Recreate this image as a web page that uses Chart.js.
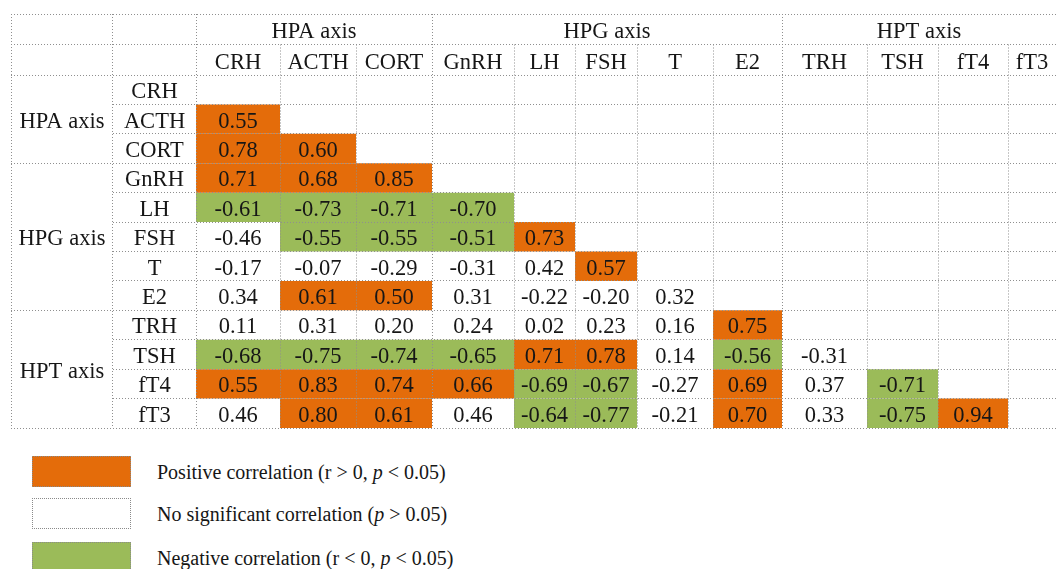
<!DOCTYPE html>
<html>
<head>
<meta charset="utf-8">
<title>Hormone axis correlations</title>
<script src="https://cdn.jsdelivr.net/npm/chart.js@4.4.1/dist/chart.umd.min.js"></script>
<style>
  html, body { margin: 0; padding: 0; background: #fff; }
  #wrap {
    position: relative;
    width: 1056px;
    height: 569px;
    overflow: hidden;
    font-family: "Liberation Serif", "Times New Roman", serif;
    color: #161616;
  }
  #chart-corr { position: absolute; left: 0; top: 0; }
  .key { position: absolute; left: 32px; height: 31px; line-height: 31px; font-size: 20px; white-space: nowrap; }
  .key .sw {
    position: absolute; left: 0; top: 0; width: 99px; height: 31px;
    box-sizing: border-box; border: 1px dotted #8a8a8a;
  }
  .key .txt { position: absolute; left: 125px; top: 1px; }
</style>
</head>
<body>
<div id="wrap">
  <canvas id="chart-corr" width="1056" height="432"></canvas>
</div>
<script>
// Spearman r between hormones, lower triangle only (row = hormone, column = earlier hormone).
const hormones = ['CRH', 'ACTH', 'CORT', 'GnRH', 'LH', 'FSH', 'T', 'E2', 'TRH', 'TSH', 'fT4', 'fT3'];
const axisNames = ['HPA axis', 'HPG axis', 'HPT axis'];
const axisSizes = [3, 5, 4];

const rValues = [
  [],
  [0.55],
  [0.78, 0.60],
  [0.71, 0.68, 0.85],
  [-0.61, -0.73, -0.71, -0.70],
  [-0.46, -0.55, -0.55, -0.51, 0.73],
  [-0.17, -0.07, -0.29, -0.31, 0.42, 0.57],
  [0.34, 0.61, 0.50, 0.31, -0.22, -0.20, 0.32],
  [0.11, 0.31, 0.20, 0.24, 0.02, 0.23, 0.16, 0.75],
  [-0.68, -0.75, -0.74, -0.65, 0.71, 0.78, 0.14, -0.56, -0.31],
  [0.55, 0.83, 0.74, 0.66, -0.69, -0.67, -0.27, 0.69, 0.37, -0.71],
  [0.46, 0.80, 0.61, 0.46, -0.64, -0.77, -0.21, 0.70, 0.33, -0.75, 0.94],
];

// 1 = p < 0.05
const significant = [
  [],
  [1],
  [1, 1],
  [1, 1, 1],
  [1, 1, 1, 1],
  [0, 1, 1, 1, 1],
  [0, 0, 0, 0, 0, 1],
  [0, 1, 1, 0, 0, 0, 0],
  [0, 0, 0, 0, 0, 0, 0, 1],
  [1, 1, 1, 1, 1, 1, 0, 1, 0],
  [1, 1, 1, 1, 1, 1, 0, 1, 0, 1],
  [0, 1, 1, 0, 1, 1, 0, 1, 0, 1, 1],
];

const legendLabels = [
  'Positive correlation (r &gt; 0, <i>p</i> &lt; 0.05)',
  'No significant correlation (<i>p</i> &gt; 0.05)',
  'Negative correlation (r &lt; 0, <i>p</i> &lt; 0.05)',
];

(function () {
  'use strict';

  const ORANGE = '#e46c0a';
  const GREEN = '#9bbb59';
  const INK = '#161616';
  const GRID = '#8f8f8f';
  const FONT = '"Liberation Serif", "Times New Roman", serif';
  const FONT_SIZE = 22.5;

  // Table layout (px): group-label column, row-name column, data columns, header rows.
  const LABEL_COL = 102;
  const NAME_COL = 83;
  const DATA_COLS = [84, 76, 76, 82, 61, 62, 76, 69, 85, 71, 70, 48];
  const HEADER_H = 30.5;

  const colEdges = [0, LABEL_COL, LABEL_COL + NAME_COL];
  DATA_COLS.forEach((w) => colEdges.push(colEdges[colEdges.length - 1] + w));
  const dataStart = (j) => colEdges[j + 2];

  // first hormone index of every axis group
  const groupStarts = [];
  axisSizes.reduce((acc, n) => { groupStarts.push(acc); return acc + n; }, 0);

  function cells(sign) {
    const out = [];
    rValues.forEach((row, i) => row.forEach((r, j) => {
      if (significant[i][j] && Math.sign(r) === sign) {
        out.push({ x: [dataStart(j), dataStart(j + 1)], y: hormones[i] });
      }
    }));
    return out;
  }

  const tablePlugin = {
    id: 'corrTable',
    afterDatasetsDraw(chart) {
      const { ctx, chartArea } = chart;
      const xs = chart.scales.x;
      const ys = chart.scales.y;
      const px = (v) => xs.getPixelForValue(v);
      const rowEdge = (i) => ys.getPixelForValue(i - 0.5);
      const rowMid = (i) => ys.getPixelForValue(i);
      const top = chartArea.top - 2 * HEADER_H;
      const mid = chartArea.top - HEADER_H;
      const bottom = chartArea.bottom;
      const left = px(0);
      const right = px(colEdges[colEdges.length - 1]);

      ctx.save();
      ctx.strokeStyle = GRID;
      ctx.lineWidth = 1;
      ctx.setLineDash([1, 2]);
      const h = (y, x0, x1) => {
        const yy = Math.floor(y) + 0.5;
        ctx.beginPath(); ctx.moveTo(x0, yy); ctx.lineTo(x1, yy); ctx.stroke();
      };
      const v = (x, y0, y1) => {
        const xx = Math.floor(x) + 0.5;
        ctx.beginPath(); ctx.moveTo(xx, y0); ctx.lineTo(xx, y1); ctx.stroke();
      };

      // horizontal rules
      h(top, left, right);
      h(mid, left, right);
      for (let i = 0; i <= hormones.length; i++) {
        const full = i === 0 || i === hormones.length || groupStarts.includes(i);
        h(rowEdge(i), full ? left : px(colEdges[1]), right);
      }
      // vertical rules
      v(left, top, bottom);
      v(px(colEdges[1]), top, bottom);
      for (let j = 0; j <= hormones.length; j++) {
        const full = j === 0 || j === hormones.length || groupStarts.includes(j);
        v(px(dataStart(j)), full ? top : mid, bottom);
      }
      ctx.restore();

      ctx.save();
      ctx.fillStyle = INK;
      ctx.font = FONT_SIZE + 'px ' + FONT;
      ctx.textAlign = 'center';
      ctx.textBaseline = 'alphabetic';
      // place text by its visual centre (cap height ~0.66 em)
      const put = (text, x, cy) => ctx.fillText(text, x, cy + 0.33 * FONT_SIZE);

      // group headers (top) and group labels (left)
      axisNames.forEach((name, g) => {
        const a = groupStarts[g];
        const b = a + axisSizes[g];
        put(name, (px(dataStart(a)) + px(dataStart(b))) / 2, (top + mid) / 2 + 1.5);
        put(name, (px(colEdges[0]) + px(colEdges[1])) / 2, (rowEdge(a) + rowEdge(b)) / 2 + 1);
      });

      hormones.forEach((name, i) => {
        // column heading
        put(name, (px(dataStart(i)) + px(dataStart(i + 1))) / 2, (mid + chartArea.top) / 2 + 2);
        // row heading
        put(name, (px(colEdges[1]) + px(colEdges[2])) / 2, rowMid(i) + 1);
      });

      rValues.forEach((row, i) => row.forEach((r, j) => {
        put(r.toFixed(2), (px(dataStart(j)) + px(dataStart(j + 1))) / 2, rowMid(i) + 1);
      }));
      ctx.restore();
    },
  };

  const cellStyle = {
    borderWidth: 0,
    borderSkipped: false,
    inflateAmount: 0,
    grouped: false,
    barPercentage: 1,
    categoryPercentage: 1,
  };

  new Chart(document.getElementById('chart-corr'), {
    type: 'bar',
    data: {
      labels: hormones,
      datasets: [
        Object.assign({ label: 'positive', data: cells(1), backgroundColor: ORANGE }, cellStyle),
        Object.assign({ label: 'negative', data: cells(-1), backgroundColor: GREEN }, cellStyle),
      ],
    },
    options: {
      indexAxis: 'y',
      responsive: false,
      animation: false,
      events: [],
      layout: { padding: { left: 11, top: 75, right: 0, bottom: 4 } },
      plugins: { legend: { display: false }, tooltip: { enabled: false } },
      scales: {
        x: { type: 'linear', display: false, min: 0, max: colEdges[colEdges.length - 1] },
        y: { type: 'category', display: false, offset: true },
      },
    },
    plugins: [tablePlugin],
  });

  // legend below the table
  const swatches = [ORANGE, '#ffffff', GREEN];
  const wrap = document.getElementById('wrap');
  legendLabels.forEach((label, k) => {
    const item = document.createElement('div');
    item.className = 'key';
    item.style.top = [456, 498, 542][k] + 'px';
    item.innerHTML = '<span class="sw" style="background:' + swatches[k] + '"></span><span class="txt">' + label + '</span>';
    wrap.appendChild(item);
  });
})();
</script>
</body>
</html>
